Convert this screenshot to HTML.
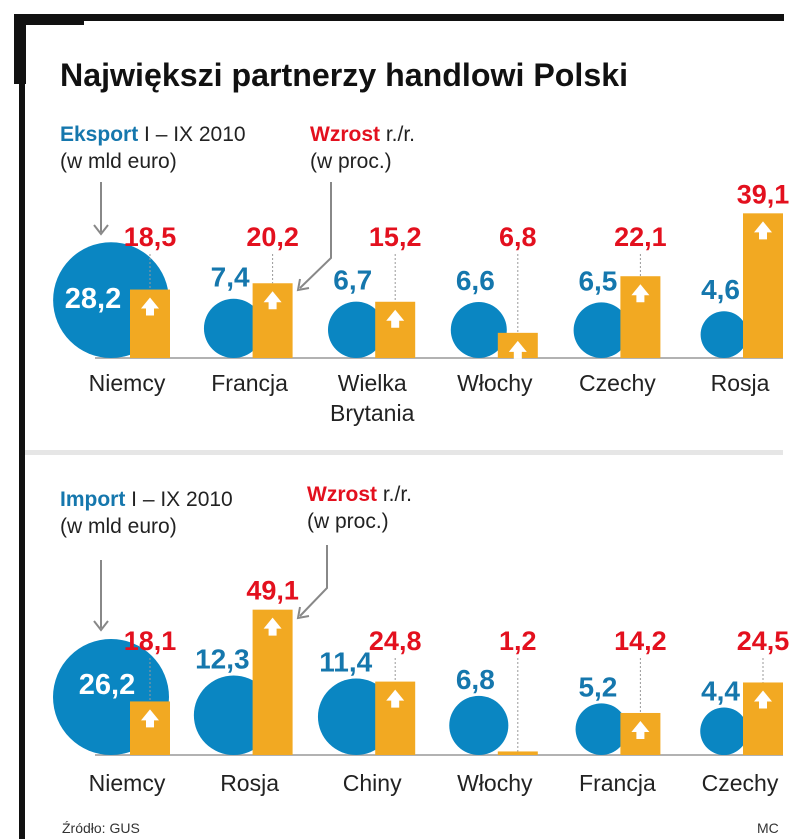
<!DOCTYPE html>
<html><head><meta charset="utf-8">
<style>
html,body{margin:0;padding:0;background:#fff;}
svg{display:block;font-family:"Liberation Sans",sans-serif;}
</style></head>
<body>
<svg id="chart" width="805" height="839" viewBox="0 0 805 839">
  <g>
    <rect x="14" y="14" width="770" height="7" fill="#111"/>
    <rect x="14" y="14" width="12" height="70" fill="#111"/>
    <rect x="14" y="14" width="70" height="11" fill="#111"/>
    <rect x="19" y="14" width="6" height="825" fill="#111"/>
  </g>
  <text x="60" y="86" font-size="32" font-weight="bold" fill="#111" textLength="568" lengthAdjust="spacingAndGlyphs">Największi partnerzy handlowi Polski</text>
  <rect x="25" y="450" width="758" height="5" fill="#e6e6e6"/>

  <g>
    <text x="60" y="141" font-size="21" fill="#222"><tspan font-weight="bold" fill="#1577ad">Eksport</tspan> I – IX 2010</text>
    <text x="60" y="168" font-size="21" fill="#222">(w mld euro)</text>
    <text x="310" y="141" font-size="21" fill="#222"><tspan font-weight="bold" fill="#e3101e">Wzrost</tspan> r./r.</text>
    <text x="310" y="168" font-size="21" fill="#222">(w proc.)</text>
    <path d="M101 182 V232" stroke="#888" stroke-width="2" fill="none"/>
    <path d="M94 225 L101 234 L108 225" stroke="#888" stroke-width="2" fill="none"/>
    <path d="M331 182 V258 L300 288" stroke="#888" stroke-width="2" fill="none"/>
    <path d="M300 279 L298 290 L309 288" stroke="#888" stroke-width="2" fill="none"/>
  </g>
  <g>
    <text x="60" y="506" font-size="21" fill="#222"><tspan font-weight="bold" fill="#1577ad">Import</tspan> I – IX 2010</text>
    <text x="60" y="533" font-size="21" fill="#222">(w mld euro)</text>
    <text x="307" y="501" font-size="21" fill="#222"><tspan font-weight="bold" fill="#e3101e">Wzrost</tspan> r./r.</text>
    <text x="307" y="528" font-size="21" fill="#222">(w proc.)</text>
    <path d="M101 560 V628" stroke="#888" stroke-width="2" fill="none"/>
    <path d="M94 621 L101 630 L108 621" stroke="#888" stroke-width="2" fill="none"/>
    <path d="M327 545 V588 L300 616" stroke="#888" stroke-width="2" fill="none"/>
    <path d="M300 607 L298 618 L309 616" stroke="#888" stroke-width="2" fill="none"/>
  </g>
  <g id="exportG"></g>
  <g id="importG"></g>
  <text x="62" y="833" font-size="14" fill="#333">Źródło: GUS</text>
  <text x="757" y="833" font-size="14" fill="#333">MC</text>
</svg>
<script>
const exportCountries = ["Niemcy","Francja","Wielka|Brytania","Włochy","Czechy","Rosja"];
const exportValues = [28.2, 7.4, 6.7, 6.6, 6.5, 4.6];
const exportGrowth = [18.5, 20.2, 15.2, 6.8, 22.1, 39.1];
const importCountries = ["Niemcy","Rosja","Chiny","Włochy","Francja","Czechy"];
const importValues = [26.2, 12.3, 11.4, 6.8, 5.2, 4.4];
const importGrowth = [18.1, 49.1, 24.8, 1.2, 14.2, 24.5];

const NS = "http://www.w3.org/2000/svg";
const BLUE = "#0a86c2", LBLUE = "#1577ad", ORANGE = "#f2a922", RED = "#e3101e";
function mk(tag, attrs, parent) {
  const e = document.createElementNS(NS, tag);
  for (const k in attrs) e.setAttribute(k, attrs[k]);
  parent.appendChild(e);
  return e;
}
function fmt(v) { return v.toFixed(1).replace(".", ","); }
const xBar = i => 130 + i * 122.6;

function draw(g, cats, vals, growth, base, barScale, rK, labelCap, catY, blueGap, wdx, wdy) {
  mk("line", {x1: 95, x2: 783, y1: base, y2: base, stroke: "#999", "stroke-width": 1.5}, g);
  cats.forEach((c, i) => {
    const bx = xBar(i);
    const r = rK * Math.sqrt(vals[i]);
    const cx = bx - 19;
    const cy = base - r;
    const circ = mk("circle", {cx: cx, cy: cy, r: r, fill: BLUE}, g);
    
    
    const h = growth[i] * barScale;
    const top = base - h;
    const bar = mk("rect", {x: bx, y: top, width: 40, height: h, fill: ORANGE}, g);
    
    
    if (h > 20) {
      const ax = bx + 20, ay = top + 8;
      const arr = mk("path", {d: `M${ax} ${ay} L${ax+9} ${ay+11} L${ax+4} ${ay+11} L${ax+4} ${ay+18} L${ax-4} ${ay+18} L${ax-4} ${ay+11} L${ax-9} ${ay+11} Z`, fill: "#fff"}, g);
      
      
    }
    const ly = Math.min(top - 10, labelCap);
    if (top - ly > 18) {
      mk("line", {x1: bx + 20, x2: bx + 20, y1: ly + 8, y2: top, stroke: "#999", "stroke-width": 1, "stroke-dasharray": "2,2"}, g);
    }
    const gl = mk("text", {x: bx + 20, y: ly, "font-size": 27, "font-weight": "bold", fill: RED, "text-anchor": "middle"}, g);
    gl.textContent = fmt(growth[i]);
    
    
    let vl;
    if (r > 45) {
      vl = mk("text", {x: cx + wdx, y: cy + wdy, "font-size": 29, "font-weight": "bold", fill: "#fff", "text-anchor": "middle"}, g);
    } else {
      vl = mk("text", {x: bx - 3, y: cy - r - blueGap, "font-size": 28, "font-weight": "bold", fill: LBLUE, "text-anchor": "end"}, g);
    }
    vl.textContent = fmt(vals[i]);
    
    
    c.split("|").forEach((line, j) => {
      const t = mk("text", {x: bx - 3, y: catY + j * 30, "font-size": 23, fill: "#222", "text-anchor": "middle"}, g);
      t.textContent = line;
      
      
    });
  });
}
draw(document.getElementById("exportG"), exportCountries, exportValues, exportGrowth, 358, 3.7, 10.9, 246, 391, 12, -18, 8);
draw(document.getElementById("importG"), importCountries, importValues, importGrowth, 755, 2.96, 11.33, 650, 791, 7, -4, -3);
</script>
</body></html>
